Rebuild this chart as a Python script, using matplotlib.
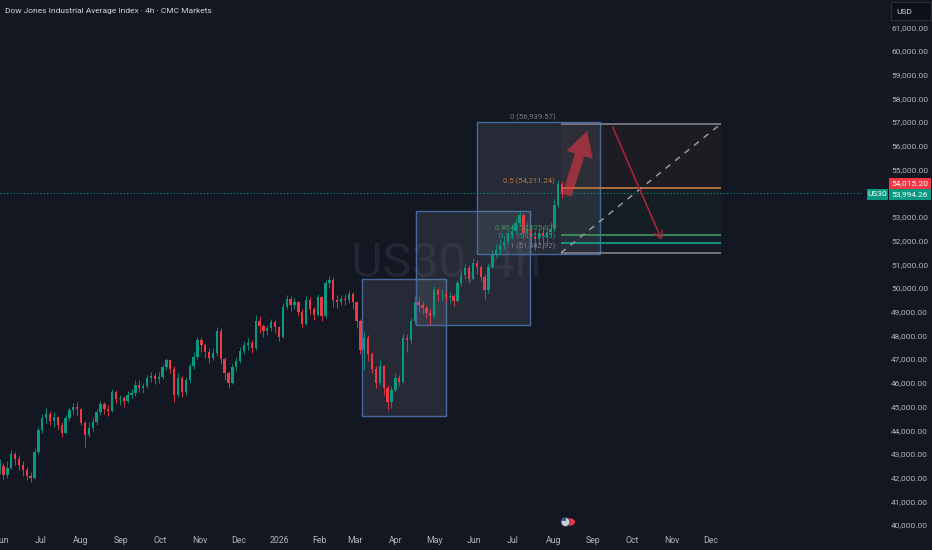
import matplotlib
matplotlib.use("Agg")
import matplotlib.pyplot as plt
import matplotlib.dates as mdates
import matplotlib.patches as patches
import numpy as np
import pandas as pd

plt.rcParams['font.family'] = ['Roboto', 'DejaVu Sans']

# ---- data (~3 day candles) ----
closes = [42500, 42100, 42400, 43000, 42800, 42550, 42300, 42050, 42000, 43100,
          44000, 44500, 44700, 44400, 44550, 44200, 43900, 44500, 44850, 45000,
          44900, 44300, 43800, 44100, 44350, 44750, 45100, 44900, 44800, 45600,
          45300, 45350, 45250, 45500, 45550, 45900, 45800, 45850, 46200, 46300,
          46150, 46250, 46650, 46950, 46600, 45500, 46200, 45600, 46100, 46700,
          47100, 47800, 47600, 47300, 47050, 47250, 48200, 47000, 46400, 46000,
          46650, 46900, 47350, 47600, 47700, 47450, 48600, 48400, 48200, 48300,
          48550, 48350, 47950, 49200, 49550, 49300, 49400, 49000, 48500, 49500,
          49100, 48850, 49600, 48800, 50200, 50350, 49500, 49400, 49550, 49500,
          49750, 49400, 48600, 47400, 47900, 47200, 46600, 46000, 46700, 45800,
          45200, 45700, 46200, 46050, 47900, 47800, 48600, 49400, 49300, 49150,
          48950, 48800, 49900, 49700, 49750, 49600, 49650, 49450, 50200, 50550,
          50850, 50400, 51050, 50900, 50450, 49900, 50900, 51450, 51600, 51800,
          51950, 52250, 52400, 52750, 53100, 52300, 52500, 52150, 52050, 52300,
          52200, 52350, 52500, 53500, 54400, 53994.26]
highs = [42800, 42600, 42700, 43150, 43100, 42950, 42700, 42450, 42250, 43250,
         44150, 44700, 44950, 44800, 44750, 44600, 44350, 44650, 45000, 45150,
         45200, 44950, 44400, 44350, 44500, 44900, 45250, 45200, 45050, 45750,
         45700, 45500, 45450, 45650, 45750, 46100, 46100, 46000, 46350, 46450,
         46400, 46450, 46800, 47050, 47000, 46700, 46400, 46300, 46250, 46850,
         47300, 47950, 47950, 47700, 47450, 47450, 48350, 48300, 47100, 46500,
         46800, 47100, 47500, 47750, 47900, 47800, 48850, 48800, 48500, 48450,
         48700, 48650, 48400, 49350, 49700, 49650, 49600, 49450, 49100, 49650,
         49600, 49200, 49750, 49650, 50350, 50500, 50450, 49700, 49700, 49750,
         49900, 49850, 49450, 48700, 48150, 48000, 47300, 46700, 46950, 46750,
         45900, 45850, 46400, 46350, 48100, 48050, 48750, 49650, 49600, 49450,
         49300, 49100, 50100, 50000, 49950, 49900, 49850, 49750, 50350, 50750,
         51000, 50950, 51250, 51200, 50950, 50600, 51050, 51600, 51850, 52050,
         52200, 52450, 52700, 52950, 53300, 53150, 52800, 52650, 52400, 52500,
         52600, 52550, 52800, 53750, 54550, 54500]
lows = [42150, 41950, 42000, 42350, 42550, 42300, 42050, 41900, 41800, 41950,
        43000, 43900, 44300, 44200, 44150, 44000, 43700, 43850, 44400, 44700,
        44600, 44200, 43300, 43700, 43950, 44200, 44650, 44700, 44600, 44750,
        45100, 45050, 45000, 45150, 45350, 45450, 45600, 45550, 45800, 46050,
        45950, 46000, 46150, 46550, 46400, 45200, 45400, 45400, 45500, 46000,
        46600, 47000, 47300, 47050, 46850, 46950, 47150, 46800, 46100, 45800,
        45950, 46500, 46850, 47200, 47400, 47250, 47400, 48100, 47950, 48000,
        48200, 48100, 47750, 47900, 49100, 49050, 49100, 48800, 48350, 48450,
        48900, 48650, 48800, 48600, 48750, 50000, 49200, 49150, 49300, 49300,
        49350, 49100, 48300, 47200, 46550, 46900, 46400, 45800, 45900, 45500,
        44850, 44950, 45600, 45850, 46000, 47300, 47700, 48500, 49000, 48900,
        48750, 48450, 48750, 49450, 49500, 49400, 49350, 49250, 49400, 50100,
        50400, 50250, 50350, 50600, 50300, 49550, 49800, 50850, 51300, 51450,
        51650, 51850, 52050, 52300, 52650, 52050, 52100, 51900, 51600, 51800,
        51650, 51900, 52150, 52400, 53400, 53800]
first_open = 42300
dates = pd.date_range('2025-05-30', periods=len(closes), freq='3D')

price_ticks = [40000, 41000, 42000, 43000, 44000, 45000, 46000, 47000, 48000, 49000,
               50000, 51000, 52000, 53000, 55000, 56000, 57000, 58000, 59000,
               60000, 61000]
month_starts = pd.date_range('2025-06-01', '2026-12-01', freq='MS')
month_labels = [('2026' if d.month == 1 else d.strftime('%b')) for d in month_starts]

# boxes: (start, end, low, high)
boxes = [('2026-03-06', '2026-05-10', 44620, 50374),
         ('2026-04-17', '2026-07-14', 48442, 53230),
         ('2026-06-03', '2026-09-06', 51450, 57000)]

fib_high = 56939.57
fib_low = 51482.92
fib_levels = [0, 0.5, 0.864, 0.92, 1]
fib_texts = ['0 (56,939.57)', '0.5 (54,211.24)', '0.864 (52,225.07)',
             '0.92 (51,919.45)', '1 (51,482.92)']
fib_colors = ['#787b86', '#b8763e', '#3f8f5c', '#159c8a', '#787b86']
fib_start, fib_end = '2026-08-07', '2026-12-09'

last_price = 53994.26
bid_price = 54015.20

BG = '#131722'
UP = '#089981'
DOWN = '#f23645'
TXT = '#b2b5be'

def dn(s):
    return mdates.date2num(pd.Timestamp(s))

fig = plt.figure(figsize=(9.32, 5.5), dpi=100, facecolor=BG)
ax = fig.add_axes([0, 20 / 550, 862 / 932, 530 / 550])
ax.set_facecolor(BG)
for s in ax.spines.values():
    s.set_visible(False)

base = dn('2025-07-01')
ax.set_xlim(base - 31.7, base + 634.8)
ax.set_ylim(39789, 62152)

# watermark
ax.text(dn('2026-05-10'), 51000, 'US30, 4h', fontsize=35, color='#222632',
        ha='center', va='center', zorder=0)

# candles
x = mdates.date2num(dates)
opens = [first_open] + closes[:-1]
cols = [UP if c >= o else DOWN for o, c in zip(opens, closes)]
ax.vlines(x, lows, highs, colors=cols, lw=0.6, zorder=3)
bottoms = [min(o, c) for o, c in zip(opens, closes)]
heights = [max(abs(c - o), 25) for o, c in zip(opens, closes)]
ax.bar(x, heights, bottom=bottoms, width=1.8, color=cols, lw=0, zorder=3)

# boxes
for b in boxes:
    x0, x1 = dn(b[0]), dn(b[1])
    ax.add_patch(patches.Rectangle((x0, b[2]), x1 - x0, b[3] - b[2],
                                   facecolor=(0.6, 0.62, 0.7, 0.14),
                                   edgecolor='#466a9e', lw=1, zorder=2))

# fib retracement
fx0, fx1 = dn(fib_start), dn(fib_end)
fib_prices = [fib_high - lv * (fib_high - fib_low) for lv in fib_levels]
for i in range(len(fib_prices) - 1):
    ax.fill_between([fx0, fx1], fib_prices[i], fib_prices[i + 1],
                    color=fib_colors[i + 1], alpha=0.06, lw=0, zorder=1)
for p, t, c in zip(fib_prices, fib_texts, fib_colors):
    ax.hlines(p, fx0, fx1, colors=c, lw=1.3, zorder=4)
    ax.annotate(t, (fx0, p), xytext=(-4, 2), textcoords='offset points',
                ha='right', va='bottom', fontsize=5.6, color=c, zorder=5)
ax.plot([fx0, fx1], [fib_low, fib_high], color='#9598a1', lw=1.1,
        ls=(0, (4, 4)), zorder=4)

# current price dotted line
ax.axhline(last_price, color=UP, lw=0.8, ls=(0, (1, 2)), zorder=2)

# arrows
ax.annotate('', xy=(dn('2026-08-28'), 56750), xytext=(dn('2026-08-11'), 53800),
            arrowprops=dict(arrowstyle='simple,head_length=1.3,head_width=1.4,tail_width=0.5',
                            mutation_scale=14, fc=DOWN, ec='none', alpha=0.55),
            zorder=6)
ax.annotate('', xy=(dn('2026-10-24'), 52030), xytext=(dn('2026-09-16'), 56790),
            arrowprops=dict(arrowstyle='->,head_length=0.5,head_width=0.3',
                            color='#a8243a', lw=1.2, shrinkA=0, shrinkB=0),
            zorder=6)

# axes ticks
ax.set_yticks(price_ticks)
ax.set_yticklabels([f'{v:,.2f}' for v in price_ticks])
ax.yaxis.tick_right()
ax.tick_params(axis='y', length=0, pad=21, labelsize=6, labelcolor=TXT)
ax.set_xticks([mdates.date2num(d) for d in month_starts])
ax.set_xticklabels(month_labels)
ax.tick_params(axis='x', length=0, pad=4, labelsize=6.3, labelcolor=TXT)

# title
fig.text(5 / 932, 1 - 11 / 550, 'Dow Jones Industrial Average Index · 4h · CMC Markets',
         fontsize=6, color='#d1d4dc', va='center', ha='left')

# price scale boxes
def fig_box(x0, y0, w, h, fc, ec='none'):
    fig.add_artist(patches.Rectangle((x0 / 932, 1 - (y0 + h) / 550), w / 932, h / 550,
                                     transform=fig.transFigure, facecolor=fc,
                                     edgecolor=ec, lw=0.8))

fig_box(889, 178, 42, 10.5, DOWN)
fig.text(910 / 932, 1 - 183.3 / 550, f'{bid_price:,.2f}', fontsize=6, color='white',
         ha='center', va='center')
fig_box(889, 189, 42, 10.5, UP)
fig.text(910 / 932, 1 - 194.3 / 550, f'{last_price:,.2f}', fontsize=6, color='white',
         ha='center', va='center')
fig_box(867, 189, 21, 10.5, UP)
fig.text(877.5 / 932, 1 - 194.3 / 550, 'US30', fontsize=6, color='white',
         ha='center', va='center')

fig_box(891, 2, 40, 18, '#0e1017', '#2a2e39')
fig.text(896 / 932, 1 - 11.5 / 550, 'USD', fontsize=6, color='#d1d4dc',
         ha='left', va='center')

# flag marker near the time axis
fig.add_artist(patches.Circle((568.5 / 932, 1 - 522 / 550), 6.5 / 932,
                              transform=fig.transFigure, facecolor=DOWN,
                              edgecolor='none'))
fig.add_artist(patches.Ellipse((565.5 / 932, 1 - 522 / 550), 9 / 932, 9 / 550,
                               transform=fig.transFigure, facecolor='#c9ced8',
                               edgecolor='#2c3140', lw=0.6))
fig.add_artist(patches.Rectangle((561.5 / 932, 1 - 521 / 550), 4 / 932, 3.5 / 550,
                                 transform=fig.transFigure, facecolor='#3c5a9a',
                                 edgecolor='none'))

fig.savefig('out.png', dpi=100, facecolor=BG)
